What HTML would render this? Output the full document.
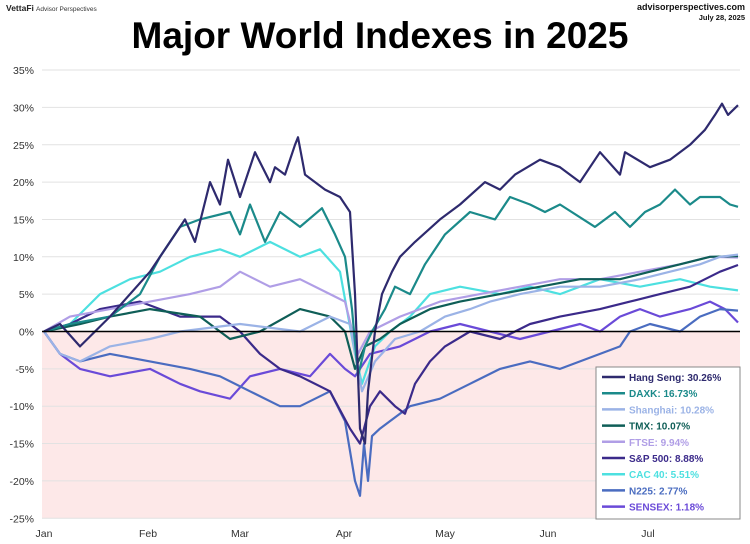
<!DOCTYPE html>
<html><head><meta charset="utf-8"><style>
body{margin:0;background:#fff;font-family:"Liberation Sans",Arial,sans-serif}
#c{position:relative;width:750px;height:544px;overflow:hidden}
</style></head><body><div id="c">
<svg id="s" width="750" height="544" xmlns="http://www.w3.org/2000/svg" font-family="Liberation Sans, Arial, sans-serif">
<text x="6" y="11" font-size="8.5" font-weight="bold" fill="#222">VettaFi</text>
<text x="36" y="11" font-size="6.5" fill="#333">Advisor Perspectives</text>
<text x="745" y="10" font-size="9" font-weight="bold" text-anchor="end" fill="#111">advisorperspectives.com</text>
<text x="745" y="20" font-size="7.5" font-weight="bold" text-anchor="end" fill="#111">July 28, 2025</text>
<text x="380" y="48" font-size="37" font-weight="bold" text-anchor="middle" fill="#000">Major World Indexes in 2025</text>
<g id="g"></g>
</svg>
<script>
var s=document.getElementById('g'),ns='http://www.w3.org/2000/svg',h='';
function Y(p){return 331.5-7.47*p}
h+='<rect x="42" y="'+Y(0)+'" width="698" height="'+(Y(-25)-Y(0))+'" fill="#fde8e8"/>';
for(var p=35;p>=-25;p-=5){h+='<line x1="42" x2="740" y1="'+Y(p)+'" y2="'+Y(p)+'" stroke="#e2e2e2" stroke-width="1"/>';
h+='<text x="34" y="'+(Y(p)+4)+'" font-size="10.5" text-anchor="end" fill="#333">'+p+'%</text>';}
var m=[['Jan',44],['Feb',148],['Mar',240],['Apr',344],['May',445],['Jun',548],['Jul',648]];
m.forEach(function(a){h+='<text x="'+a[1]+'" y="537" font-size="10.5" text-anchor="middle" fill="#333">'+a[0]+'</text>'});
var D={
sens:['#6a4ad8',[44,0,60,-3,80,-5,110,-6,150,-5,180,-7,200,-8,230,-9,250,-6,280,-5,310,-6,330,-3,345,-5,355,-6,370,-3,400,-2,430,0,460,1,490,0,520,-1,550,0,580,1,600,0,620,2,640,3,660,2,690,3,710,4,725,3,738,1.2]],
n225:['#4a6cc0',[44,0,60,-3,80,-4,110,-3,150,-4,190,-5,220,-6,250,-8,280,-10,300,-10,330,-8,345,-12,355,-20,360,-22,364,-15,368,-20,372,-14,380,-13,390,-12,410,-10,440,-9,470,-7,500,-5,530,-4,560,-5,600,-3,620,-2,630,0,650,1,680,0,700,2,720,3,738,2.8]],
cac:['#4de0e0',[44,0,70,1,100,5,130,7,160,8,190,10,220,11,240,10,270,12,300,10,320,11,340,8,355,-3,362,-7,375,-2,390,0,410,2,430,5,460,6,500,5,530,6,560,5,600,7,640,6,680,7,710,6,738,5.5]],
sp:['#3b2a8a',[44,0,70,1,100,3,140,4,180,2,220,2,240,0,260,-3,280,-5,300,-6,330,-8,350,-13,360,-15,370,-10,380,-8,395,-10,405,-11,415,-7,430,-4,445,-2,470,0,500,-1,530,1,560,2,600,3,630,4,660,5,690,6,720,8,738,8.9]],
ftse:['#b09ee6',[44,0,70,2,110,3,150,4,190,5,220,6,240,8,270,6,300,7,330,5,345,4,358,-3,370,0,400,2,440,4,480,5,520,6,560,7,600,7,640,8,680,9,710,10,738,9.9]],
tmx:['#0f5e57',[44,0,80,1,110,2,150,3,200,2,230,-1,260,0,300,3,330,2,345,0,355,-5,365,-2,380,-1,400,1,430,3,460,4,500,5,540,6,580,7,620,7,650,8,680,9,710,10,738,10.1]],
sh:['#9bb3e6',[44,0,60,-3,80,-4,110,-2,150,-1,180,0,240,1,300,0,330,2,350,1,362,-8,375,-4,395,-1,420,0,445,2,470,3,490,4,520,5,560,6,600,6,640,7,670,8,700,9,720,10,738,10.3]],
dax:['#1b8a8a',[44,0,70,1,110,2,140,5,160,10,180,14,200,15,230,16,240,13,250,17,265,12,280,16,300,14,322,16.5,335,13,345,10,352,3,358,-6,365,-2,372,0,385,3,395,6,410,5,425,9,445,13,470,16,495,15,510,18,530,17,545,16,560,17,595,14,615,16,630,14,645,16,660,17,675,19,690,17,700,18,720,18,730,17,738,16.7]],
hs:['#2e2a6e',[44,0,60,1,80,-2,110,2,150,8,170,12,185,15,195,12,210,20,220,17,228,23,240,18,255,24,270,20,275,22,285,21,295,25,298,26,305,21,325,19,340,18,350,16,355,5,360,-13,365,-15,368,-8,375,0,382,5,392,8,400,10,415,12,440,15,460,17,485,20,500,19,515,21,540,23,560,22,580,20,600,24,620,21,625,24,650,22,670,23,690,25,705,27,715,29,722,30.5,728,29,738,30.3]]};
['sens','n225','cac','sp','ftse','tmx','sh','dax','hs'].forEach(function(k){var d=D[k][1],pts=[];for(var i=0;i<d.length;i+=2)pts.push(d[i]+','+Y(d[i+1]).toFixed(1));
h+='<polyline points="'+pts.join(' ')+'" fill="none" stroke="'+D[k][0]+'" stroke-width="2.2" stroke-linejoin="round"/>';});
h+='<line x1="42" x2="740" y1="'+Y(0)+'" y2="'+Y(0)+'" stroke="#000" stroke-width="1.5"/>';
h+='<rect x="596" y="367" width="144" height="152" fill="#fff" stroke="#888"/>';
var L=[['Hang Seng: 30.26%','#2e2a6e'],['DAXK: 16.73%','#1b8a8a'],['Shanghai: 10.28%','#9bb3e6'],['TMX: 10.07%','#0f5e57'],['FTSE: 9.94%','#b09ee6'],['S&amp;P 500: 8.88%','#3b2a8a'],['CAC 40: 5.51%','#4de0e0'],['N225: 2.77%','#4a6cc0'],['SENSEX: 1.18%','#6a4ad8']];
L.forEach(function(a,i){var y=377+i*16.2;h+='<line x1="602" x2="625" y1="'+y+'" y2="'+y+'" stroke="'+a[1]+'" stroke-width="2.5"/><text x="629" y="'+(y+4)+'" font-size="10" font-weight="bold" fill="'+a[1]+'">'+a[0]+'</text>'});
s.innerHTML=h;
</script>
</div></body></html>
